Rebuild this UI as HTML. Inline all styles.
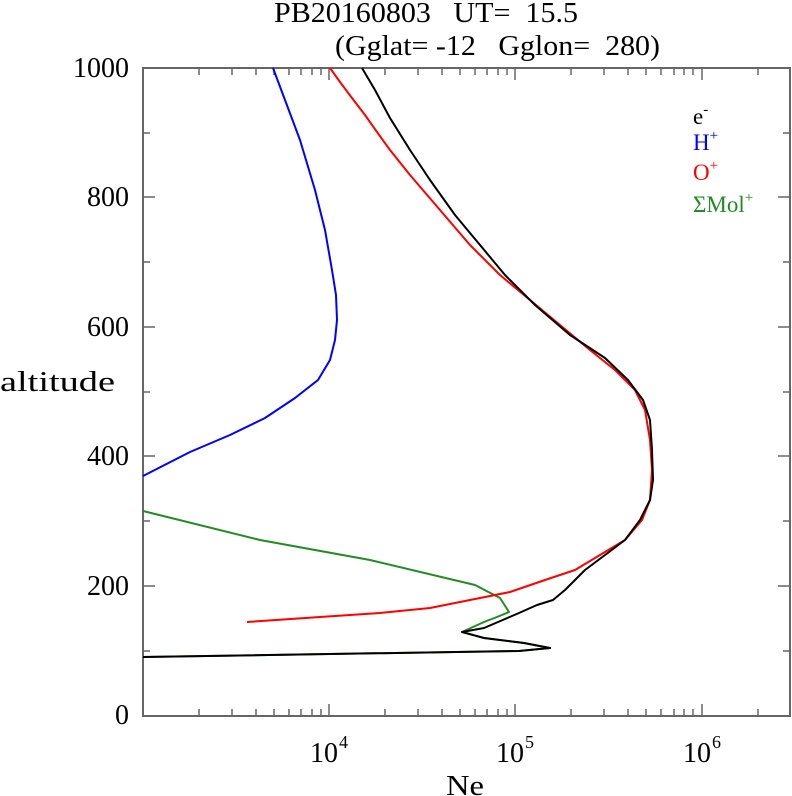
<!DOCTYPE html>
<html><head><style>body{margin:0;background:#fff}svg{display:block}text{font-family:"Liberation Serif",serif}</style></head><body>
<svg width="792" height="796" viewBox="0 0 792 796" xmlns="http://www.w3.org/2000/svg">
<g font-size="28" fill="#000">
<text x="274" y="22" xml:space="preserve" textLength="304" lengthAdjust="spacingAndGlyphs">PB20160803   UT=  15.5</text>
<text x="335" y="55" xml:space="preserve" textLength="325" lengthAdjust="spacingAndGlyphs">(Gglat= -12   Gglon=  280)</text>
<text x="0" y="391" textLength="115" lengthAdjust="spacingAndGlyphs">altitude</text>
<text x="446" y="795" textLength="38" lengthAdjust="spacingAndGlyphs">Ne</text>
<g text-anchor="end">
<text x="129" y="77">1000</text><text x="129" y="206">800</text><text x="129" y="336">600</text>
<text x="129" y="465">400</text><text x="129" y="595">200</text><text x="129" y="724">0</text>
</g>
<text x="310" y="762">10</text><text x="339" y="748" font-size="18">4</text>
<text x="496" y="762">10</text><text x="525" y="748" font-size="18">5</text>
<text x="683" y="762">10</text><text x="712" y="748" font-size="18">6</text>
</g>
<g font-size="23">
<text x="693" y="124" fill="#000">e<tspan font-size="15" dy="-10">-</tspan></text>
<text x="693" y="150" fill="#0000ff">H<tspan font-size="15" dy="-10">+</tspan></text>
<text x="693" y="180" fill="#ff0000">O<tspan font-size="15" dy="-10">+</tspan></text>
<text x="693" y="212" fill="#228b22">ΣMol<tspan font-size="15" dy="-10">+</tspan></text>
</g>
<g stroke="#666" stroke-width="1.5" id="ticks">
<path d="M329,716v-12M515,716v-12M702,716v-12M329,68v12M515,68v12M702,68v12"/>
<path d="M199,716v-7M232,716v-7M256,716v-7M274,716v-7M289,716v-7M301,716v-7M312,716v-7M321,716v-7
M385,716v-7M418,716v-7M442,716v-7M460,716v-7M475,716v-7M487,716v-7M498,716v-7M507,716v-7
M571,716v-7M604,716v-7M628,716v-7M646,716v-7M661,716v-7M674,716v-7M684,716v-7M693,716v-7
M758,716v-7M199,68v7M232,68v7M256,68v7M274,68v7M289,68v7M301,68v7M312,68v7M321,68v7
M385,68v7M418,68v7M442,68v7M460,68v7M475,68v7M487,68v7M498,68v7M507,68v7
M571,68v7M604,68v7M628,68v7M646,68v7M661,68v7M674,68v7M684,68v7M693,68v7M758,68v7"/>
<path d="M143,197h12M143,327h12M143,456h12M143,586h12M790,197h-12M790,327h-12M790,456h-12M790,586h-12
M143,133h7M143,262h7M143,392h7M143,521h7M143,651h7M790,133h-7M790,262h-7M790,392h-7M790,521h-7M790,651h-7"/>
</g>
<rect x="143" y="68" width="647" height="648" fill="none" stroke="#666" stroke-width="2"/>
<g fill="none" stroke-width="2" stroke-linejoin="round">
<polyline stroke="#0000ff" points="273,68 285,100 300,140 315,190 325,230 332,270 336,295 337,320 335,340 330,360 318,380 295,398 265,418 230,435 190,452 143,476"/>
<polyline stroke="#228b22" points="143,511 260,540 370,560 475,585 500,598 509,612 497,617 484,622 462,632 484,638 524,643 550,648 519,651 143,657"/>
<polyline stroke="#ff0000" points="330,68 340,82 352,98 365,115 377,132 390,150 410,175 440,210 470,245 500,275 530,300 560,325 590,350 615,370 635,390 645,410 650,440 652,470 650,500 642,520 625,540 600,555 575,570 545,580 510,592 470,600 430,608 380,613 320,617 247,622"/>
<polyline stroke="#000" points="362,68 375,90 390,118 410,150 430,180 455,215 480,245 505,275 535,305 570,335 605,358 628,380 643,400 650,420 652,450 653,480 650,500 640,520 625,540 605,555 585,570 565,590 553,600 537,605 519,613 484,628 462,632 484,638 524,643 550,648 519,651 143,657"/>
</g>
</svg>
</body></html>
